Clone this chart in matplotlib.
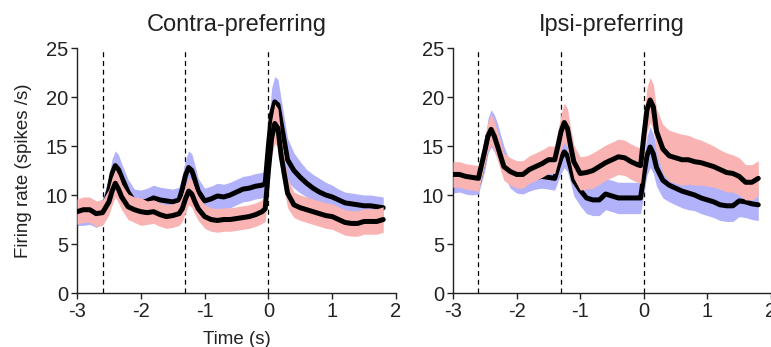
import numpy as np
import matplotlib
matplotlib.use("Agg")
import matplotlib.pyplot as plt

plt.rcParams['font.family'] = ['Liberation Sans', 'DejaVu Sans']

# time axis (s)
t = [-3.0, -2.9, -2.8, -2.7, -2.6, -2.5, -2.45, -2.4, -2.35, -2.3,
     -2.2, -2.1, -2.0, -1.9, -1.8, -1.7, -1.6, -1.5, -1.4,
     -1.35, -1.3, -1.25, -1.2, -1.15, -1.1,
     -1.0, -0.9, -0.8, -0.7, -0.6, -0.5, -0.4, -0.3, -0.2, -0.1,
     -0.05, 0.0, 0.05, 0.1, 0.15, 0.2,
     0.3, 0.4, 0.5, 0.6, 0.7, 0.8, 0.9, 1.0, 1.1, 1.2, 1.3, 1.4, 1.5, 1.6, 1.7, 1.8]

# Contra-preferring: red = contra trials, blue = ipsi trials
contra_red = [8.3, 8.5, 8.5, 8.1, 8.2, 9.3, 10.4, 11.2, 10.6, 9.8,
              8.8, 8.5, 8.3, 8.2, 8.3, 8.0, 7.8, 7.9, 8.1,
              8.6, 9.6, 10.4, 10.1, 9.3, 8.6,
              7.8, 7.5, 7.4, 7.5, 7.5, 7.6, 7.7, 7.8, 8.0, 8.3,
              8.6, 12.5, 15.8, 17.3, 16.8, 14.0,
              10.2, 9.0, 8.7, 8.5, 8.3, 8.1, 7.9, 7.8, 7.5, 7.2, 7.1, 7.1, 7.3, 7.3, 7.3, 7.5]
contra_red_sem = [1.3, 1.3, 1.3, 1.3, 1.3, 1.3, 1.4, 1.4, 1.4, 1.3,
                  1.3, 1.3, 1.4, 1.2, 1.2, 1.2, 1.2, 1.2, 1.2,
                  1.3, 1.4, 1.4, 1.4, 1.3, 1.2,
                  1.2, 1.2, 1.2, 1.2, 1.2, 1.2, 1.2, 1.2, 1.2, 1.2,
                  1.3, 1.5, 1.8, 2.0, 2.0, 1.8,
                  1.5, 1.3, 1.3, 1.3, 1.3, 1.3, 1.3, 1.3, 1.3, 1.3, 1.3, 1.3, 1.3, 1.3, 1.3, 1.3]
contra_blue = [8.2, 8.2, 8.3, 8.0, 8.3, 10.5, 12.2, 13.0, 12.6, 11.8,
               10.3, 9.3, 9.2, 9.4, 9.7, 9.5, 9.4, 9.3, 9.5,
               10.6, 12.0, 12.8, 12.5, 11.5, 10.4,
               9.4, 9.6, 9.9, 9.8, 10.0, 10.3, 10.6, 10.7, 10.9, 11.0,
               11.2, 15.0, 18.3, 19.5, 19.2, 17.3,
               13.6, 12.5, 11.8, 11.2, 10.7, 10.3, 10.0, 9.8, 9.5, 9.2, 9.1, 9.0, 8.9, 8.9, 8.8, 8.7]
contra_blue_sem = [1.3, 1.3, 1.3, 1.3, 1.3, 1.4, 1.5, 1.5, 1.5, 1.4,
                   1.3, 1.3, 1.3, 1.3, 1.3, 1.3, 1.3, 1.3, 1.3,
                   1.4, 1.6, 1.7, 1.7, 1.5, 1.3,
                   1.3, 1.3, 1.3, 1.3, 1.3, 1.3, 1.3, 1.3, 1.3, 1.3,
                   1.4, 2.0, 2.6, 2.6, 2.6, 2.5,
                   2.2, 1.8, 1.6, 1.4, 1.4, 1.4, 1.3, 1.2, 1.1, 1.1, 1.1, 1.1, 1.1, 1.1, 1.1, 1.1]

# Ipsi-preferring
ipsi_red = [12.1, 12.1, 11.9, 11.8, 11.7, 14.5, 16.0, 16.7, 16.0, 15.0,
            12.9, 12.4, 12.1, 12.1, 12.6, 12.9, 13.2, 13.6, 13.6,
            15.0, 16.5, 17.4, 16.8, 15.0, 13.4,
            12.2, 12.3, 12.5, 12.9, 13.3, 13.6, 13.9, 13.8, 13.4, 13.1,
            13.0, 16.0, 18.7, 19.7, 19.0, 16.5,
            14.7, 14.0, 13.8, 13.6, 13.6, 13.4, 13.3, 13.1, 12.9, 12.6, 12.3, 12.2, 11.9, 11.3, 11.3, 11.7]
ipsi_red_sem = [1.3, 1.3, 1.3, 1.3, 1.3, 1.4, 1.5, 1.6, 1.5, 1.5,
                1.4, 1.4, 1.4, 1.4, 1.4, 1.4, 1.4, 1.4, 1.4,
                1.6, 1.8, 2.0, 2.0, 1.8, 1.7,
                1.7, 1.7, 1.8, 1.8, 1.8, 1.8, 1.8, 1.8, 1.8, 1.8,
                1.8, 2.0, 2.3, 2.3, 2.3, 2.3,
                2.5, 2.6, 2.6, 2.6, 2.5, 2.4, 2.3, 2.2, 2.1, 2.0, 2.0, 1.9, 1.9, 1.8, 1.8, 1.8]
ipsi_blue = [11.3, 11.4, 11.2, 11.1, 11.2, 14.0, 16.0, 16.8, 16.3, 15.5,
             13.5, 12.0, 11.4, 11.3, 11.6, 11.8, 11.9, 11.8, 11.7,
             12.8, 13.8, 14.4, 14.0, 12.8, 11.5,
             10.5, 9.7, 9.5, 9.5, 10.1, 9.9, 9.7, 9.7, 9.7, 9.7,
             9.7, 12.0, 14.0, 14.9, 14.2, 12.8,
             11.5, 11.0, 10.7, 10.4, 10.2, 10.0, 9.7, 9.5, 9.3, 9.0, 8.9, 8.9, 9.4, 9.3, 9.1, 9.0]
ipsi_blue_sem = [1.1, 1.1, 1.1, 1.1, 1.1, 1.5, 1.8, 1.9, 1.9, 1.8,
                 1.5, 1.3, 1.2, 1.2, 1.2, 1.2, 1.2, 1.2, 1.2,
                 1.4, 1.6, 1.6, 1.6, 1.6, 1.6,
                 1.6, 1.6, 1.6, 1.6, 1.6, 1.6, 1.6, 1.6, 1.6, 1.6,
                 1.6, 1.8, 2.0, 2.1, 2.0, 1.9,
                 1.8, 1.7, 1.7, 1.7, 1.7, 1.6, 1.6, 1.6, 1.6, 1.6, 1.6, 1.6, 1.6, 1.6, 1.6, 1.6]

event_times = [-2.6, -1.3, 0.0]

RED = '#f9b3b3'
BLUE = '#b2b2fb'

fig = plt.figure(figsize=(7.71, 3.47), dpi=100)
ax1 = fig.add_axes([0.0999, 0.1556, 0.4137, 0.706])
ax2 = fig.add_axes([0.5875, 0.1556, 0.4125, 0.706])

panels = [
    (ax1, 'Contra-preferring', contra_blue, contra_blue_sem, contra_red, contra_red_sem),
    (ax2, 'Ipsi-preferring', ipsi_blue, ipsi_blue_sem, ipsi_red, ipsi_red_sem),
]

tt = np.array(t)
for ax, title, b, bs, r, rs in panels:
    b, bs, r, rs = map(np.array, (b, bs, r, rs))
    # event markers sit under the shaded bands
    for ev in event_times:
        ax.plot([ev, ev], [0, 25], color='black', lw=0.9, ls=(0, (4, 3)), zorder=0.5)
    # blue first, red on top (blue line can hide under red band)
    ax.fill_between(tt, b - bs, b + bs, color=BLUE, lw=0, zorder=1)
    ax.plot(tt, b, color='black', lw=3.6, solid_capstyle='round', zorder=2)
    ax.fill_between(tt, r - rs, r + rs, color=RED, lw=0, zorder=3)
    ax.plot(tt, r, color='black', lw=3.6, solid_capstyle='round', zorder=4)

    ax.set_xlim(-3, 2)
    ax.set_ylim(0, 25)
    ax.set_xticks([-3, -2, -1, 0, 1, 2])
    ax.set_xticklabels(['-3', '-2', '-1', '0', '1', '2'])
    ax.set_yticks([0, 5, 10, 15, 20, 25])
    ax.spines['top'].set_visible(False)
    ax.spines['right'].set_visible(False)
    for s in ('left', 'bottom'):
        ax.spines[s].set_linewidth(1.0)
        ax.spines[s].set_color('#222222')
    ax.tick_params(direction='out', length=4.5, width=1.0, labelsize=14.5,
                   colors='#222222', pad=2)
    ax.set_title(title, fontsize=17, pad=12, color='#222222')

ax1.set_ylabel('Firing rate (spikes /s)', fontsize=13.5, color='#222222', labelpad=10)
ax1.set_xlabel('Time (s)', fontsize=13.5, color='#222222', labelpad=7)

fig.savefig('out.png', dpi=100)
